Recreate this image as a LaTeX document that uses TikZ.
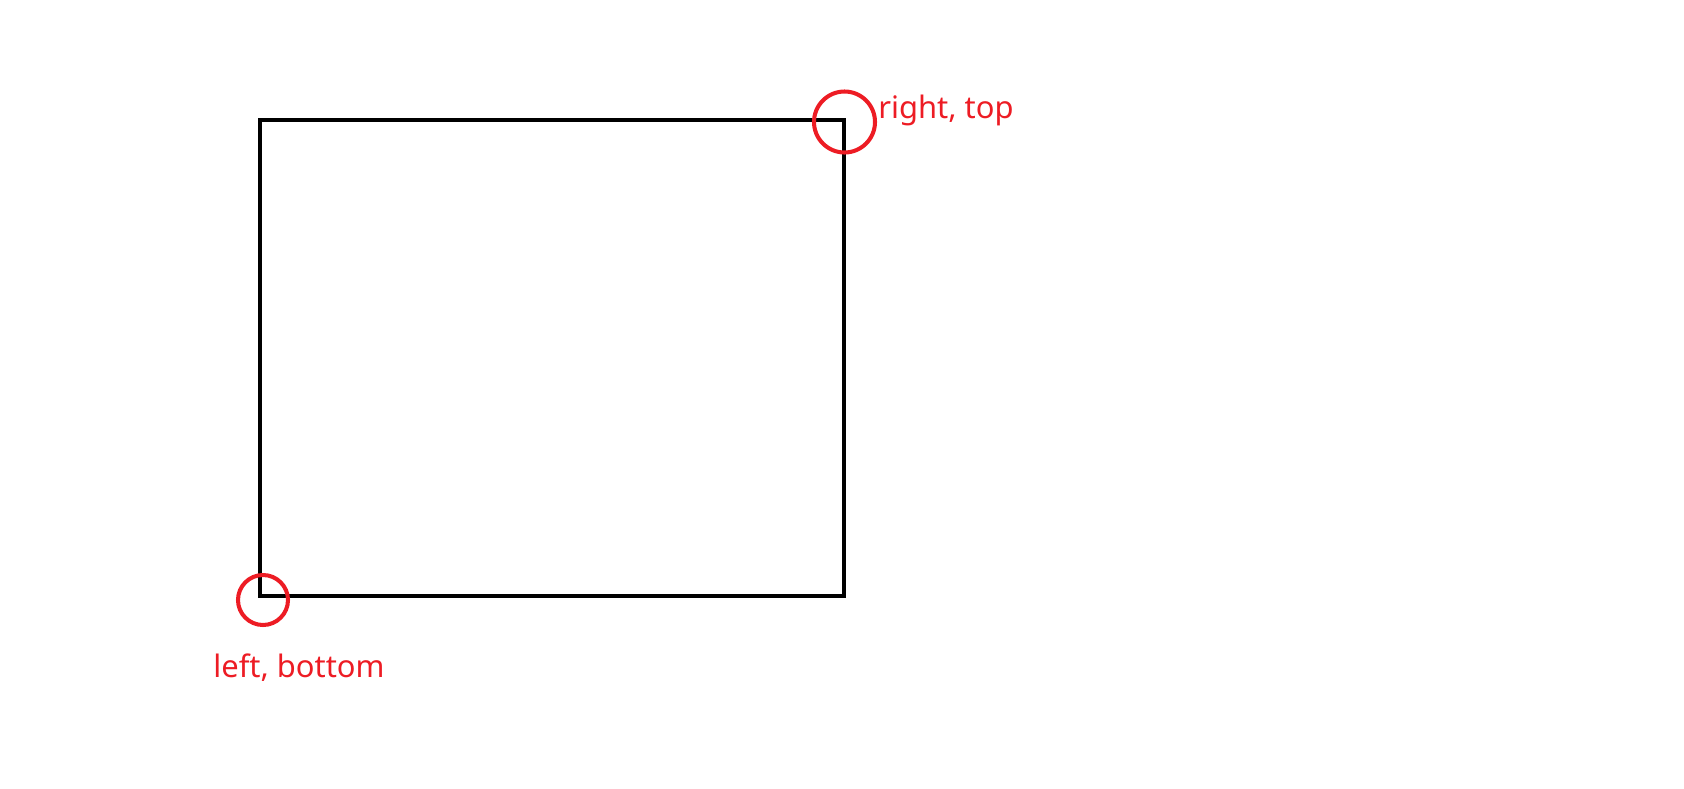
\documentclass[tikz,border=0pt]{standalone}
\usepackage{fontspec}
\setmainfont{Noto Sans}
\usetikzlibrary{positioning}
\definecolor{markred}{HTML}{ED1C24}
\tikzset{
  frame/.style   = {draw, line width=2.5pt, line join=miter},
  marker/.style  = {draw=markred, line width=2.3pt, circle, inner sep=0pt},
  cornerlbl/.style = {text=markred, font=\fontsize{17.6}{21}\selectfont, inner sep=0pt},
}
\begin{document}
\begin{tikzpicture}[x=0.02cm,y=-0.02cm]
\useasboundingbox (0,0) rectangle (1684,788);
\coordinate (LB) at (260,596);
\coordinate (RT) at (844,120);
\draw[frame] (LB) rectangle (RT);
% corner markers
\node[marker,minimum size=61*0.02cm] (mRT) at (844.5,122) {};
\node[marker,minimum size=50*0.02cm] (mLB) at (263,600) {};
\node[cornerlbl,anchor=base west] (tRT) at (878,118) {right, top};
\node[cornerlbl,anchor=base west] (tLB) at (213,677) {left, bottom};
\end{tikzpicture}
\end{document}
